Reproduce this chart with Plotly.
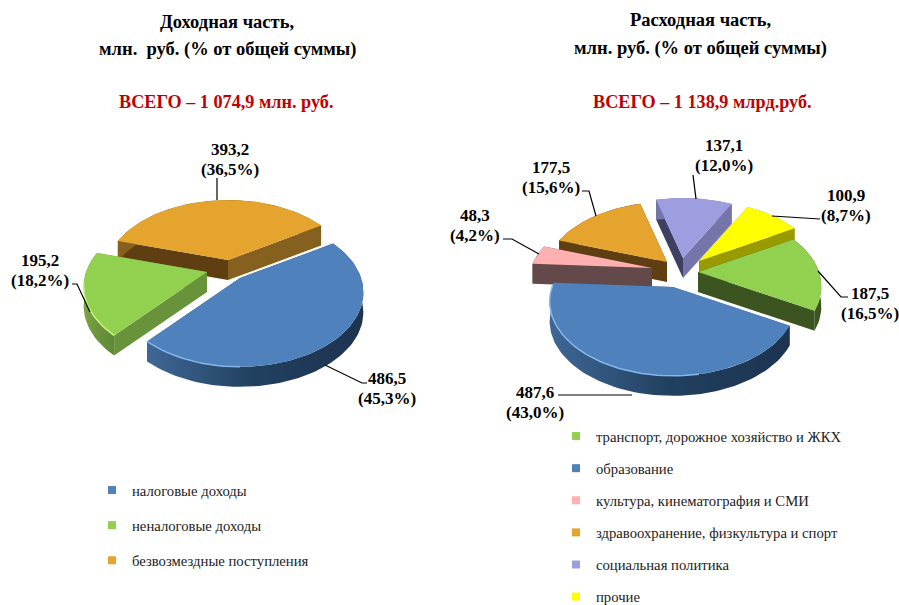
import math
import plotly.graph_objects as go

# ---------- data ----------
income_categories = ["налоговые доходы", "неналоговые доходы", "безвозмездные поступления"]
income_values = [486.5, 195.2, 393.2]
income_percents = [45.3, 18.2, 36.5]
income_total = "1 074,9"

expense_categories = ["транспорт, дорожное хозяйство и ЖКХ", "образование",
                      "культура, кинематография и СМИ", "здравоохранение, физкультура и спорт",
                      "социальная политика", "прочие"]
expense_values = [187.5, 487.6, 48.3, 177.5, 137.1, 100.9]
expense_percents = [16.5, 43.0, 4.2, 15.6, 12.0, 8.7]
expense_total = "1 138,9"

# ---------- style / layout ----------
SERIF = "Liberation Serif"
R, RS, K, DEPTH = 121.0, 71.6, 0.194, 20.0
BLUE = dict(top="#4f81bd", start="#3a5f8c", end="#3a5f8c", rim=["#3f6796", "#21405f", "#1d3350"], glow="#86b6ec")
GREEN = dict(top="#92d050", start="#69933a", end="#69933a", rim=["#7ea544", "#69933a", "#5f8a34"], glow="#c9f27c")
GREEN_D = dict(top="#92d050", start="#3c5520", end="#3c5520", rim=["#3c5520", "#3c5520", "#3c5520"], glow=None)
ORANGE = dict(top="#e5a42e", start="#5f3f12", end="#86601e", rim=["#86601e", "#86601e", "#86601e"], glow=None)
ORANGE_D = dict(top="#e5a42e", start="#5f3f12", end="#5f3f12", rim=["#5f3f12", "#5f3f12", "#5f3f12"], glow=None)
PINK = dict(top="#ffb0b0", start="#64494a", end="#64494a", rim=["#64494a", "#64494a", "#64494a"], glow=None)
PURPLE = dict(top="#9d9ddf", start="#3f3f63", end="#7575ab", rim=["#7575ab", "#7575ab", "#7575ab"], glow=None)
YELLOW = dict(top="#ffff00", start="#999900", end="#999900", rim=["#999900", "#999900", "#999900"], glow=None)

income_style = [BLUE, GREEN, ORANGE]
income_centers = [(240, 278), (207, 272), (228, 260)]
income_draw = [2, 1, 0]
income_glow = [(180, 221), (221, 262), None]
income_rotation = 58.0

expense_style = [GREEN_D, BLUE, PINK, ORANGE_D, PURPLE, YELLOW]
expense_centers = [(698, 272), (673, 287), (652, 268), (667, 262), (683, 258), (699, 261)]
expense_draw = [3, 2, 4, 5, 0, 1]
expense_glow = [None, (170, 272), None, None, None, None]
expense_rotation = 60.0


def project(cx, cy, deg):
    t = math.radians(deg)
    p = 1.0 / (1.0 + K * math.cos(t))
    return cx + R * math.sin(t) * p, cy - RS * math.cos(t) * p


def arc(cx, cy, a, b, step=2.0):
    n = max(2, int(abs(b - a) / step) + 1)
    return [project(cx, cy, a + (b - a) * i / (n - 1)) for i in range(n)]


def poly(fig, pts, color=None, gradient=None):
    xs = [p[0] for p in pts] + [pts[0][0]]
    ys = [p[1] for p in pts] + [pts[0][1]]
    kw = dict(fillgradient=dict(type="horizontal", colorscale=gradient)) if gradient else dict(fillcolor=color)
    fig.add_trace(go.Scatter(x=xs, y=ys, mode="lines", fill="toself", line=dict(width=0),
                             hoverinfo="skip", showlegend=False, **kw))


def draw_pie(fig, values, rotation, centers, styles, order, glows):
    total = sum(values)
    spans = []
    a = rotation
    for v in values:
        b = a + 360.0 * v / total
        spans.append((a, b))
        a = b
    for i in order:
        cx, cy = centers[i]
        s = styles[i]
        a, b = spans[i]
        pa, pb = project(cx, cy, a), project(cx, cy, b)
        down = lambda q: (q[0], q[1] + DEPTH)
        poly(fig, [(cx, cy), pb, down(pb), (cx, cy + DEPTH)], s["end"])
        poly(fig, [(cx, cy), pa, down(pa), (cx, cy + DEPTH)], s["start"])
        rim = arc(cx, cy, a, b)
        c = s["rim"]
        poly(fig, rim + [down(q) for q in reversed(rim)],
             gradient=[[0, c[0]], [0.5, c[1]], [1, c[2]]])
        poly(fig, [(cx, cy)] + rim, s["top"])
        if glows[i]:
            g = arc(cx, cy, glows[i][0], glows[i][1])
            fig.add_trace(go.Scatter(x=[q[0] for q in g], y=[q[1] for q in g], mode="lines",
                                     line=dict(color=s["glow"], width=1.5),
                                     hoverinfo="skip", showlegend=False))


def num(v, d=1):
    return f"{v:.{d}f}".replace(".", ",")


fig = go.Figure()
draw_pie(fig, income_values, income_rotation, income_centers, income_style, income_draw, income_glow)
draw_pie(fig, expense_values, expense_rotation, expense_centers, expense_style, expense_draw, expense_glow)

for cat, st in zip(income_categories, income_style):
    fig.add_trace(go.Scatter(x=[None], y=[None], mode="markers", name=cat, legend="legend",
                             legendgroup=cat, marker=dict(symbol="square", size=8, color=st["top"])))
for cat, st in zip(expense_categories, expense_style):
    fig.add_trace(go.Scatter(x=[None], y=[None], mode="markers", name=cat, legend="legend2",
                             legendgroup=cat, marker=dict(symbol="square", size=8, color=st["top"])))


def text(x, y, s, size, color="black"):
    fig.add_annotation(x=x, y=y, xref="x", yref="y", text=f"<b>{s}</b>", showarrow=False,
                       xanchor="center", yanchor="middle",
                       font=dict(family=SERIF, size=size, color=color))


def label(x, y, value, pct):
    text(x, y - 10, num(value), 17)
    text(x, y + 10, f"({num(pct)}%)", 17)


text(227, 22, "Доходная часть,", 18.5)
text(227, 49, "млн.  руб. (% от общей суммы)", 18.5)
text(226, 102, f"ВСЕГО – {income_total} млн. руб.", 18.2, "#c00000")
text(700, 20, "Расходная часть,", 18.5)
text(700, 48, "млн. руб. (% от общей суммы)", 18.5)
text(702, 102, f"ВСЕГО – {expense_total} млрд.руб.", 18.2, "#c00000")

for (x, y), v, p in zip([(387, 388), (40, 270), (230, 159.5)], income_values, income_percents):
    label(x, y, v, p)
for (x, y), v, p in zip([(870, 303), (535, 402), (475, 225), (551, 177), (724, 155), (846, 205)],
                        expense_values, expense_percents):
    label(x, y, v, p)

leaders = [
    [(217, 178), (217, 200)],
    [(72, 284), (77, 284), (90, 312)],
    [(325, 365), (362, 383), (367, 383)],
    [(693, 175), (696, 199)],
    [(582, 191), (589, 191), (596, 216)],
    [(503, 239), (512, 239), (539, 254)],
    [(820, 219), (772, 216)],
    [(848, 297), (841, 297), (818, 271)],
    [(558, 395), (632, 395)],
]
shapes = []
for pts in leaders:
    path = "M " + " L ".join(f"{x},{y}" for x, y in pts)
    shapes.append(dict(type="path", path=path, xref="x", yref="y", line=dict(color="black", width=1.2)))

legend_common = dict(bgcolor="rgba(0,0,0,0)", font=dict(family=SERIF, size=14.7, color="#222222"),
                     xanchor="left", yanchor="top", itemclick=False, itemdoubleclick=False)
fig.update_layout(
    width=899, height=605, margin=dict(l=0, r=0, t=0, b=0, autoexpand=False),
    paper_bgcolor="white", plot_bgcolor="white", showlegend=True, hovermode=False,
    xaxis=dict(range=[0, 899], visible=False),
    yaxis=dict(range=[605, 0], visible=False),
    shapes=shapes,
    legend=dict(x=92 / 899, y=1 - 474 / 605, tracegroupgap=13, **legend_common),
    legend2=dict(x=556 / 899, y=1 - 420 / 605, tracegroupgap=10, **legend_common),
)
fig.write_html("out.html", config=dict(displayModeBar=False),
               post_script="document.body.style.margin='0';document.body.style.overflow='hidden';")
